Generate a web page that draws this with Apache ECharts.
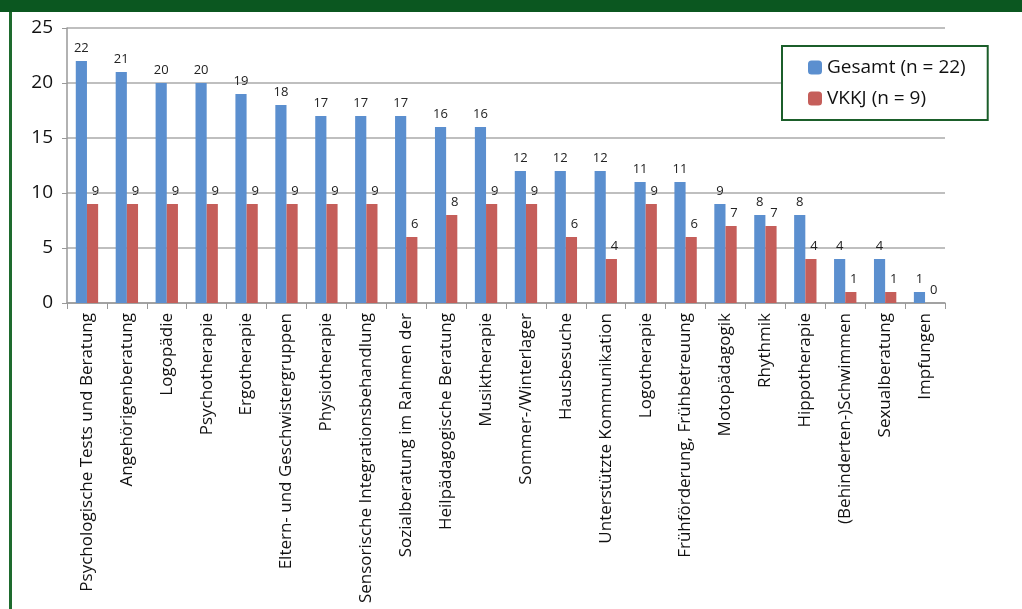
<!DOCTYPE html>
<html>
<head>
<meta charset="utf-8">
<script src="https://cdn.jsdelivr.net/npm/echarts@6/dist/echarts.min.js"></script>
<style>
  html, body { margin: 0; padding: 0; background: #fff; }
  #chart { width: 1022px; height: 609px; }
</style>
</head>
<body>
<div id="chart"></div>
<script>
// Angebote: Gesamt vs. VKKJ
const categories = [
  "Psychologische Tests und Beratung",
  "Angehörigenberatung",
  "Logopädie",
  "Psychotherapie",
  "Ergotherapie",
  "Eltern- und Geschwistergruppen",
  "Physiotherapie",
  "Sensorische Integrationsbehandlung",
  "Sozialberatung im Rahmen der",
  "Heilpädagogische Beratung",
  "Musiktherapie",
  "Sommer-/Winterlager",
  "Hausbesuche",
  "Unterstützte Kommunikation",
  "Logotherapie",
  "Frühförderung, Frühbetreuung",
  "Motopädagogik",
  "Rhythmik",
  "Hippotherapie",
  "(Behinderten-)Schwimmen",
  "Sexualberatung",
  "Impfungen"
];
const gesamt = [22, 21, 20, 20, 19, 18, 17, 17, 17, 16, 16, 12, 12, 12, 11, 11, 9, 8, 8, 4, 4, 1];
const vkkj = [9, 9, 9, 9, 9, 9, 9, 9, 6, 8, 9, 9, 6, 4, 9, 6, 7, 7, 4, 1, 1, 0];
const seriesNames = ["Gesamt (n = 22)", "VKKJ (n = 9)"];

const font = "Open Sans";
const chart = echarts.init(document.getElementById("chart"));

const labelStyle = {
  show: true,
  position: "top",
  distance: 6,
  fontFamily: font,
  fontSize: 13,
  color: "#222"
};

chart.setOption({
  animation: false,
  textStyle: { fontFamily: font },
  graphic: [
    // dunkelgrüner Rahmen oben und links
    { type: "rect", shape: { x: 0, y: 0, width: 1022, height: 12 }, style: { fill: "#0b5720" } },
    { type: "rect", shape: { x: 9, y: 12, width: 3, height: 597 }, style: { fill: "#1e6b2e" } }
  ],
  grid: { left: 67, right: 77, top: 28, bottom: 306 },
  legend: {
    orient: "vertical",
    left: 782,
    top: 46,
    padding: [12, 22, 12, 26],
    itemGap: 12,
    itemWidth: 14,
    itemHeight: 14,
    borderColor: "#1b5e2a",
    borderWidth: 2,
    backgroundColor: "#fff",
    textStyle: { fontFamily: font, fontSize: 19, color: "#111" },
    data: seriesNames
  },
  xAxis: {
    type: "category",
    data: categories,
    axisLine: { lineStyle: { color: "#999", width: 1.5 } },
    axisTick: { show: true, alignWithLabel: false, length: 6, lineStyle: { color: "#999" } },
    axisLabel: {
      rotate: 90,
      interval: 0,
      margin: 10,
      fontFamily: font,
      fontSize: 17,
      color: "#111"
    }
  },
  yAxis: {
    type: "value",
    min: 0,
    max: 25,
    interval: 5,
    axisLine: { show: true, lineStyle: { color: "#999", width: 1.5 } },
    axisTick: { show: true, length: 5, lineStyle: { color: "#999" } },
    splitLine: { lineStyle: { color: "#aaa", width: 1.5 } },
    axisLabel: { fontFamily: font, fontSize: 19, color: "#111", margin: 14 }
  },
  series: [
    {
      name: seriesNames[0],
      type: "bar",
      data: gesamt,
      barGap: "0%",
      barCategoryGap: "44%",
      itemStyle: { color: "#5b8fcf" },
      label: labelStyle
    },
    {
      name: seriesNames[1],
      type: "bar",
      data: vkkj,
      itemStyle: { color: "#c55e5a" },
      label: Object.assign({}, labelStyle, { offset: [3, 0] })
    }
  ]
});
</script>
</body>
</html>
